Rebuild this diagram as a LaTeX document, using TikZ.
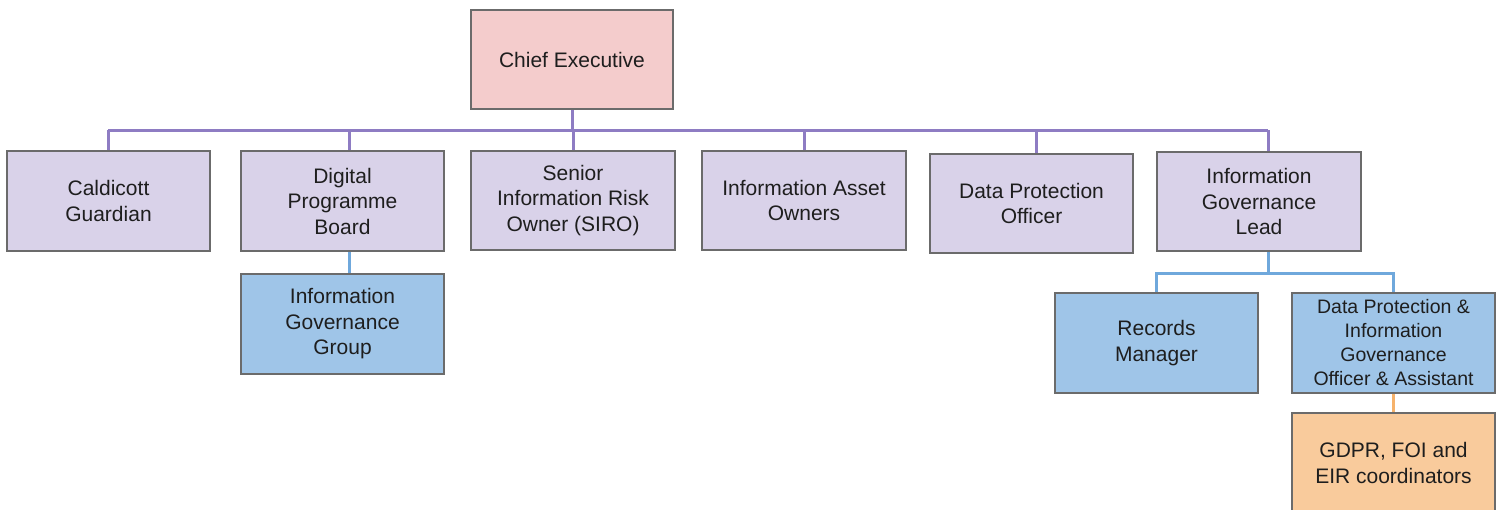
\documentclass[tikz,border=0pt]{standalone}
\usepackage{fontspec}
\setmainfont{Liberation Sans}
\begin{document}
\begin{tikzpicture}[x=1pt,y=-1pt,
  box/.style={draw=boxedge, line width=1.4pt, rectangle, minimum width=203pt, minimum height=99pt,
    inner sep=2pt, align=center, text=txt, font=\fontsize{21}{25.5}\selectfont},
  topbox/.style={box, fill=pinkfill},
  rolebox/.style={box, fill=lavfill},
  teambox/.style={box, fill=bluefill, minimum height=100pt},
  coordbox/.style={box, fill=orangefill, minimum height=100pt},
  purpleline/.style={draw=purpleedge, line width=3pt},
  blueline/.style={draw=blueedge, line width=3pt},
  orangeline/.style={draw=orangeedge, line width=3pt}]
\definecolor{pinkfill}{HTML}{F4CCCC}
\definecolor{lavfill}{HTML}{D9D2E9}
\definecolor{bluefill}{HTML}{9FC5E8}
\definecolor{orangefill}{HTML}{F9CB9C}
\definecolor{boxedge}{HTML}{6B6B6B}
\definecolor{txt}{HTML}{1E1E1E}
\definecolor{purpleedge}{HTML}{8E7CC3}
\definecolor{blueedge}{HTML}{6FA8DC}
\definecolor{orangeedge}{HTML}{F6B26B}

\useasboundingbox (0,0) rectangle (1501,509);
\clip (0,0) rectangle (1501,509);
\fill[white] (0,0) rectangle (1501,509);

% head of the organisation
\node[topbox, minimum width=202pt] (ce) at (572,59.5) {Chief Executive};

% roles reporting to the Chief Executive
\node[rolebox] (cg)   at (108.5,201)  {Caldicott\\Guardian};
\node[rolebox] (dpb)  at (342.5,201)  {Digital\\Programme\\Board};
\node[rolebox] (siro) at (573,200.5)  {Senior\\Information Risk\\Owner (SIRO)};
\node[rolebox] (iao)  at (804,200.5)  {Information Asset\\Owners};
\node[rolebox] (dpo)  at (1031.5,203.5) {Data Protection\\Officer};
\node[rolebox] (igl)  at (1259,201.5) {Information\\Governance\\Lead};

% teams below
\node[teambox] (igg)  at (342.5,324)  {Information\\Governance\\Group};
\node[teambox] (rm)   at (1156.5,343) {Records\\Manager};
\node[teambox, font=\fontsize{19.5}{24}\selectfont] (dpig) at (1393.5,343)
  {Data Protection \&\\Information\\Governance\\Officer \& Assistant};
\node[coordbox] (gdpr) at (1393.5,463) {GDPR, FOI and\\EIR coordinators};

% main reporting bus
\coordinate (busL) at (108,130);
\coordinate (busR) at (1268,130);
\draw[purpleline] (ce.south) -- (ce.south |- busL);
\draw[purpleline] (busL) -- (busR);
\draw[purpleline] (cg.north) -- (cg.north |- busL);
\draw[purpleline] ([xshift=6.5pt]dpb.north) -- ([xshift=6.5pt]dpb.north |- busL);
\draw[purpleline] (siro.north) -- (siro.north |- busL);
\draw[purpleline] (iao.north) -- (iao.north |- busL);
\draw[purpleline] ([xshift=4.5pt]dpo.north) -- ([xshift=4.5pt]dpo.north |- busL);
\draw[purpleline] ([xshift=9pt]igl.north) -- ([xshift=9pt]igl.north |- busL);

% board to group
\draw[blueline] ([xshift=7pt]dpb.south) -- ([xshift=7pt]igg.north);

% governance lead to its team
\coordinate (tbus) at (1268,273);
\draw[blueline] ([xshift=9pt]igl.south) -- (tbus);
\draw[blueline] (rm.north) |- (tbus);
\draw[blueline] (dpig.north) |- (tbus);

% officer to coordinators
\draw[orangeline] (dpig.south) -- (gdpr.north);

% redraw box outlines over the connector ends
\foreach \n in {ce,cg,dpb,siro,iao,dpo,igl,igg,rm,dpig,gdpr}{
  \draw[boxedge, line width=1.4pt] (\n.south west) rectangle (\n.north east);
}
\end{tikzpicture}
\end{document}
